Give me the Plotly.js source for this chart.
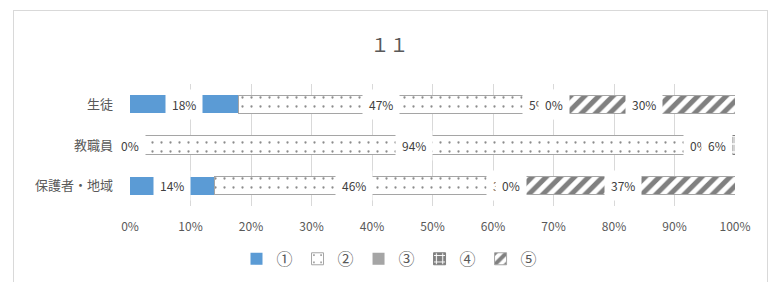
<!DOCTYPE html>
<html>
<head>
<meta charset="utf-8">
<script src="https://cdn.plot.ly/plotly-3.0.1.min.js"></script>
<style>
  html, body { margin: 0; padding: 0; background: #fff; }
  #wrap { position: relative; width: 779px; height: 282px; overflow: hidden; }
  #chart { width: 779px; height: 282px; }
  #frame { position: absolute; left: 13px; top: 10px; width: 755px; height: 300px;
           border: 1px solid #d9d9d9; pointer-events: none; box-sizing: border-box; }
</style>
</head>
<body>
<div id="wrap">
  <div id="chart"></div>
  <div id="frame"></div>
</div>
<script>
// ---- data ----
const categories = ['生徒', '教職員', '保護者・地域'];
const seriesNames = ['①', '②', '③', '④', '⑤'];
const s1 = [18, 0, 14];
const s2 = [47, 94, 46];
const s3 = [5, 0, 3];
const s4 = [0, 6, 0];
const s5 = [30, 0, 37];
const xTickVals = [0, 10, 20, 30, 40, 50, 60, 70, 80, 90, 100];
const titleText = '１１';

const allSeries = [s1, s2, s3, s4, s5];

const markers = [
  { color: '#5B9BD5' },
  { color: '#ffffff', line: { color: '#a5a5a5', width: 1 },
    pattern: { shape: '.', fgcolor: '#8c8c8c', bgcolor: '#ffffff', size: 9, solidity: 0.05 } },
  { color: '#A5A5A5' },
  { color: '#7f7f7f', line: { color: '#7f7f7f', width: 1 },
    pattern: { shape: '+', fgcolor: '#ffffff', bgcolor: '#7f7f7f', size: 8, solidity: 0.3 } },
  { color: '#ffffff', line: { color: '#a5a5a5', width: 1 },
    pattern: { shape: '/', fgcolor: '#808080', bgcolor: '#ffffff', size: 10, solidity: 0.5 } }
];

const traces = allSeries.map((vals, i) => ({
  type: 'bar',
  orientation: 'h',
  name: seriesNames[i],
  x: vals,
  y: categories,
  marker: markers[i],
  hoverinfo: 'skip'
}));

// data labels centered in each segment, white background (Excel style)
const annotations = [];
const cum = categories.map(() => 0);
allSeries.forEach((vals) => {
  vals.forEach((v, j) => {
    const start = cum[j];
    if (start < 100) {
      annotations.push({
        x: start + v / 2, y: categories[j], xref: 'x', yref: 'y',
        text: v + '%', showarrow: false,
        bgcolor: '#ffffff', borderpad: 6,
        font: { family: 'Noto Sans CJK JP', size: 12, color: '#404040' }
      });
    }
    cum[j] += v;
  });
});

const layout = {
  width: 779, height: 282,
  margin: { l: 130, r: 44, t: 84, b: 76 },
  paper_bgcolor: '#ffffff', plot_bgcolor: '#ffffff',
  font: { family: 'Noto Sans CJK JP', color: '#595959' },
  title: { text: titleText, x: 0.5, xanchor: 'center', y: 0.84, yref: 'container', yanchor: 'middle',
           font: { family: 'Noto Sans CJK JP', size: 19, color: '#595959' } },
  barmode: 'stack',
  bargap: 0.55,
  showlegend: true,
  legend: { orientation: 'h', x: 0.5, xanchor: 'center', xref: 'container',
            y: 0.082, yref: 'container', yanchor: 'middle', traceorder: 'normal',
            font: { family: 'Noto Sans CJK JP', size: 16, color: '#595959' },
            itemwidth: 30, tracegroupgap: 0 },
  xaxis: {
    range: [0, 100], tickvals: xTickVals, ticktext: xTickVals.map(v => v + '%'),
    showgrid: true, gridcolor: '#d9d9d9', gridwidth: 1,
    zeroline: false, showline: false, ticks: '',
    tickfont: { family: 'Noto Sans CJK JP', size: 12, color: '#595959' },
    ticklabelstandoff: 12, fixedrange: true
  },
  yaxis: {
    type: 'category', autorange: 'reversed',
    showgrid: false, zeroline: false, showline: false, ticks: '',
    tickfont: { family: 'Noto Sans CJK JP', size: 13, color: '#595959' },
    ticklabelstandoff: 16, fixedrange: true
  },
  annotations: annotations
};

Plotly.newPlot('chart', traces, layout, { displayModeBar: false, staticPlot: true });
</script>
</body>
</html>
